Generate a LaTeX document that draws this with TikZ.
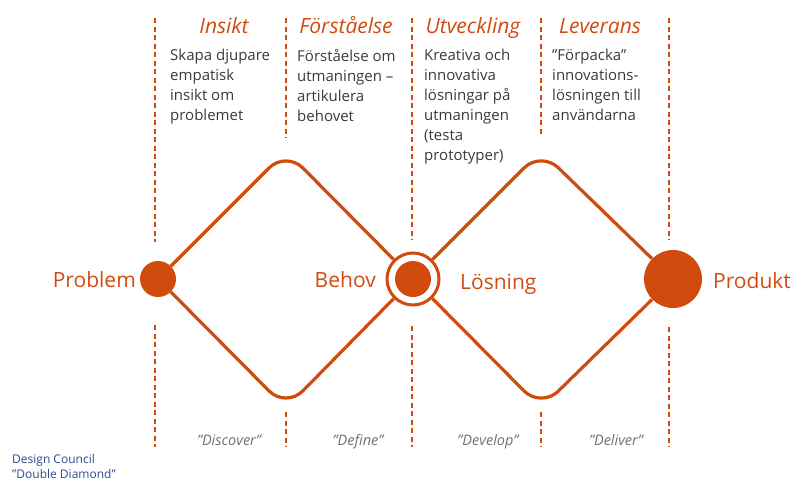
\documentclass[tikz,border=0pt]{standalone}
\usepackage{fontspec}
\setmainfont{Open Sans}
\usetikzlibrary{positioning}
\definecolor{rust}{HTML}{D24B0E}
\definecolor{slate}{HTML}{3A3A3A}
\definecolor{mist}{HTML}{707070}
\definecolor{navy}{HTML}{2E4A8C}

\begin{document}
\begin{tikzpicture}[x=1pt, y=-1pt,
          sep/.style={rust, line width=1.6pt, dash pattern=on 5pt off 3.5pt},
          ttl/.style={rust, inner sep=0pt, anchor=base, font=\fontsize{21}{24}\selectfont\itshape},
          txt/.style={slate, inner sep=0pt, anchor=north west, align=left, font=\fontsize{15}{20}\selectfont},
          lbl/.style={rust, inner sep=0pt, font=\fontsize{21}{24}\selectfont},
          ph/.style={mist, inner sep=0pt, anchor=base, font=\fontsize{14.5}{16}\selectfont\itshape},
          dot/.style={circle, fill=rust, inner sep=0pt, minimum size=#1},
          edge/.style={rust, line width=3.2pt, rounded corners=24pt}]
        \useasboundingbox (0,0) rectangle (793,482);
        % phase separators, broken where the diamonds pass
        \foreach \x/\a/\b in {155/242/325, 286/138/412, 412/240/326, 541/137/412, 669/240/327}{
          \draw[sep] (\x,18) -- (\x,\a);
          \draw[sep] (\x,\b) -- (\x,447);}
        % phase titles and texts
        \foreach \x/\t in {224/Insikt, 346/Förståelse, 473/Utveckling, 600/Leverans}
          \node[ttl] at (\x,33) {\t};
        \node[txt] (insikt) at (170,49) {Skapa djupare\\empatisk\\insikt om\\problemet};
        \node[txt] (forst) at (297,49) {Förståelse om\\utmaningen –\\artikulera\\behovet};
        \node[txt] (utv) at (424,49) {Kreativa och\\innovativa\\lösningar på\\utmaningen\\(testa\\prototyper)};
        \node[txt] (lev) at (552,49) {”Förpacka”\\innovations-\\lösningen till\\användarna};
        % milestones
        \node[dot=36pt] (problem) at (158,279) {};
        \node[circle, draw=rust, line width=3pt, fill=white, minimum size=52pt] (behov) at (413,279) {};
        \node[dot=36pt] at (behov) {};
        \node[dot=58pt] (produkt) at (673,279) {};
        \coordinate (t1) at (286,151);
        \coordinate (b1) at (286,408);
        \coordinate (t2) at (541,151);
        \coordinate (b2) at (541,408);
        % the two diamonds
        \draw[edge] (problem) -- (t1) -- (behov);
        \draw[edge] (problem) -- (b1) -- (behov);
        \draw[edge] (behov) -- (t2) -- (produkt);
        \draw[edge] (behov) -- (b2) -- (produkt);
        \node[lbl, anchor=base east] at (136,287) {Problem};
        \node[lbl, anchor=base east] at (376,287) {Behov};
        \node[lbl, anchor=base west] at (460,289) {Lösning};
        \node[lbl, anchor=base west] at (713,288) {Produkt};
        % phase names
        \foreach \x/\t in {229/Discover, 358/Define, 488/Develop, 616/Deliver}
          \node[ph] at (\x,445) {”\t”};
        \node[navy, inner sep=0pt, anchor=north west, align=left, font=\fontsize{12}{15}\selectfont]
          (source) at (12,454) {Design Council\\”Double Diamond”};
      \end{tikzpicture}
\end{document}
